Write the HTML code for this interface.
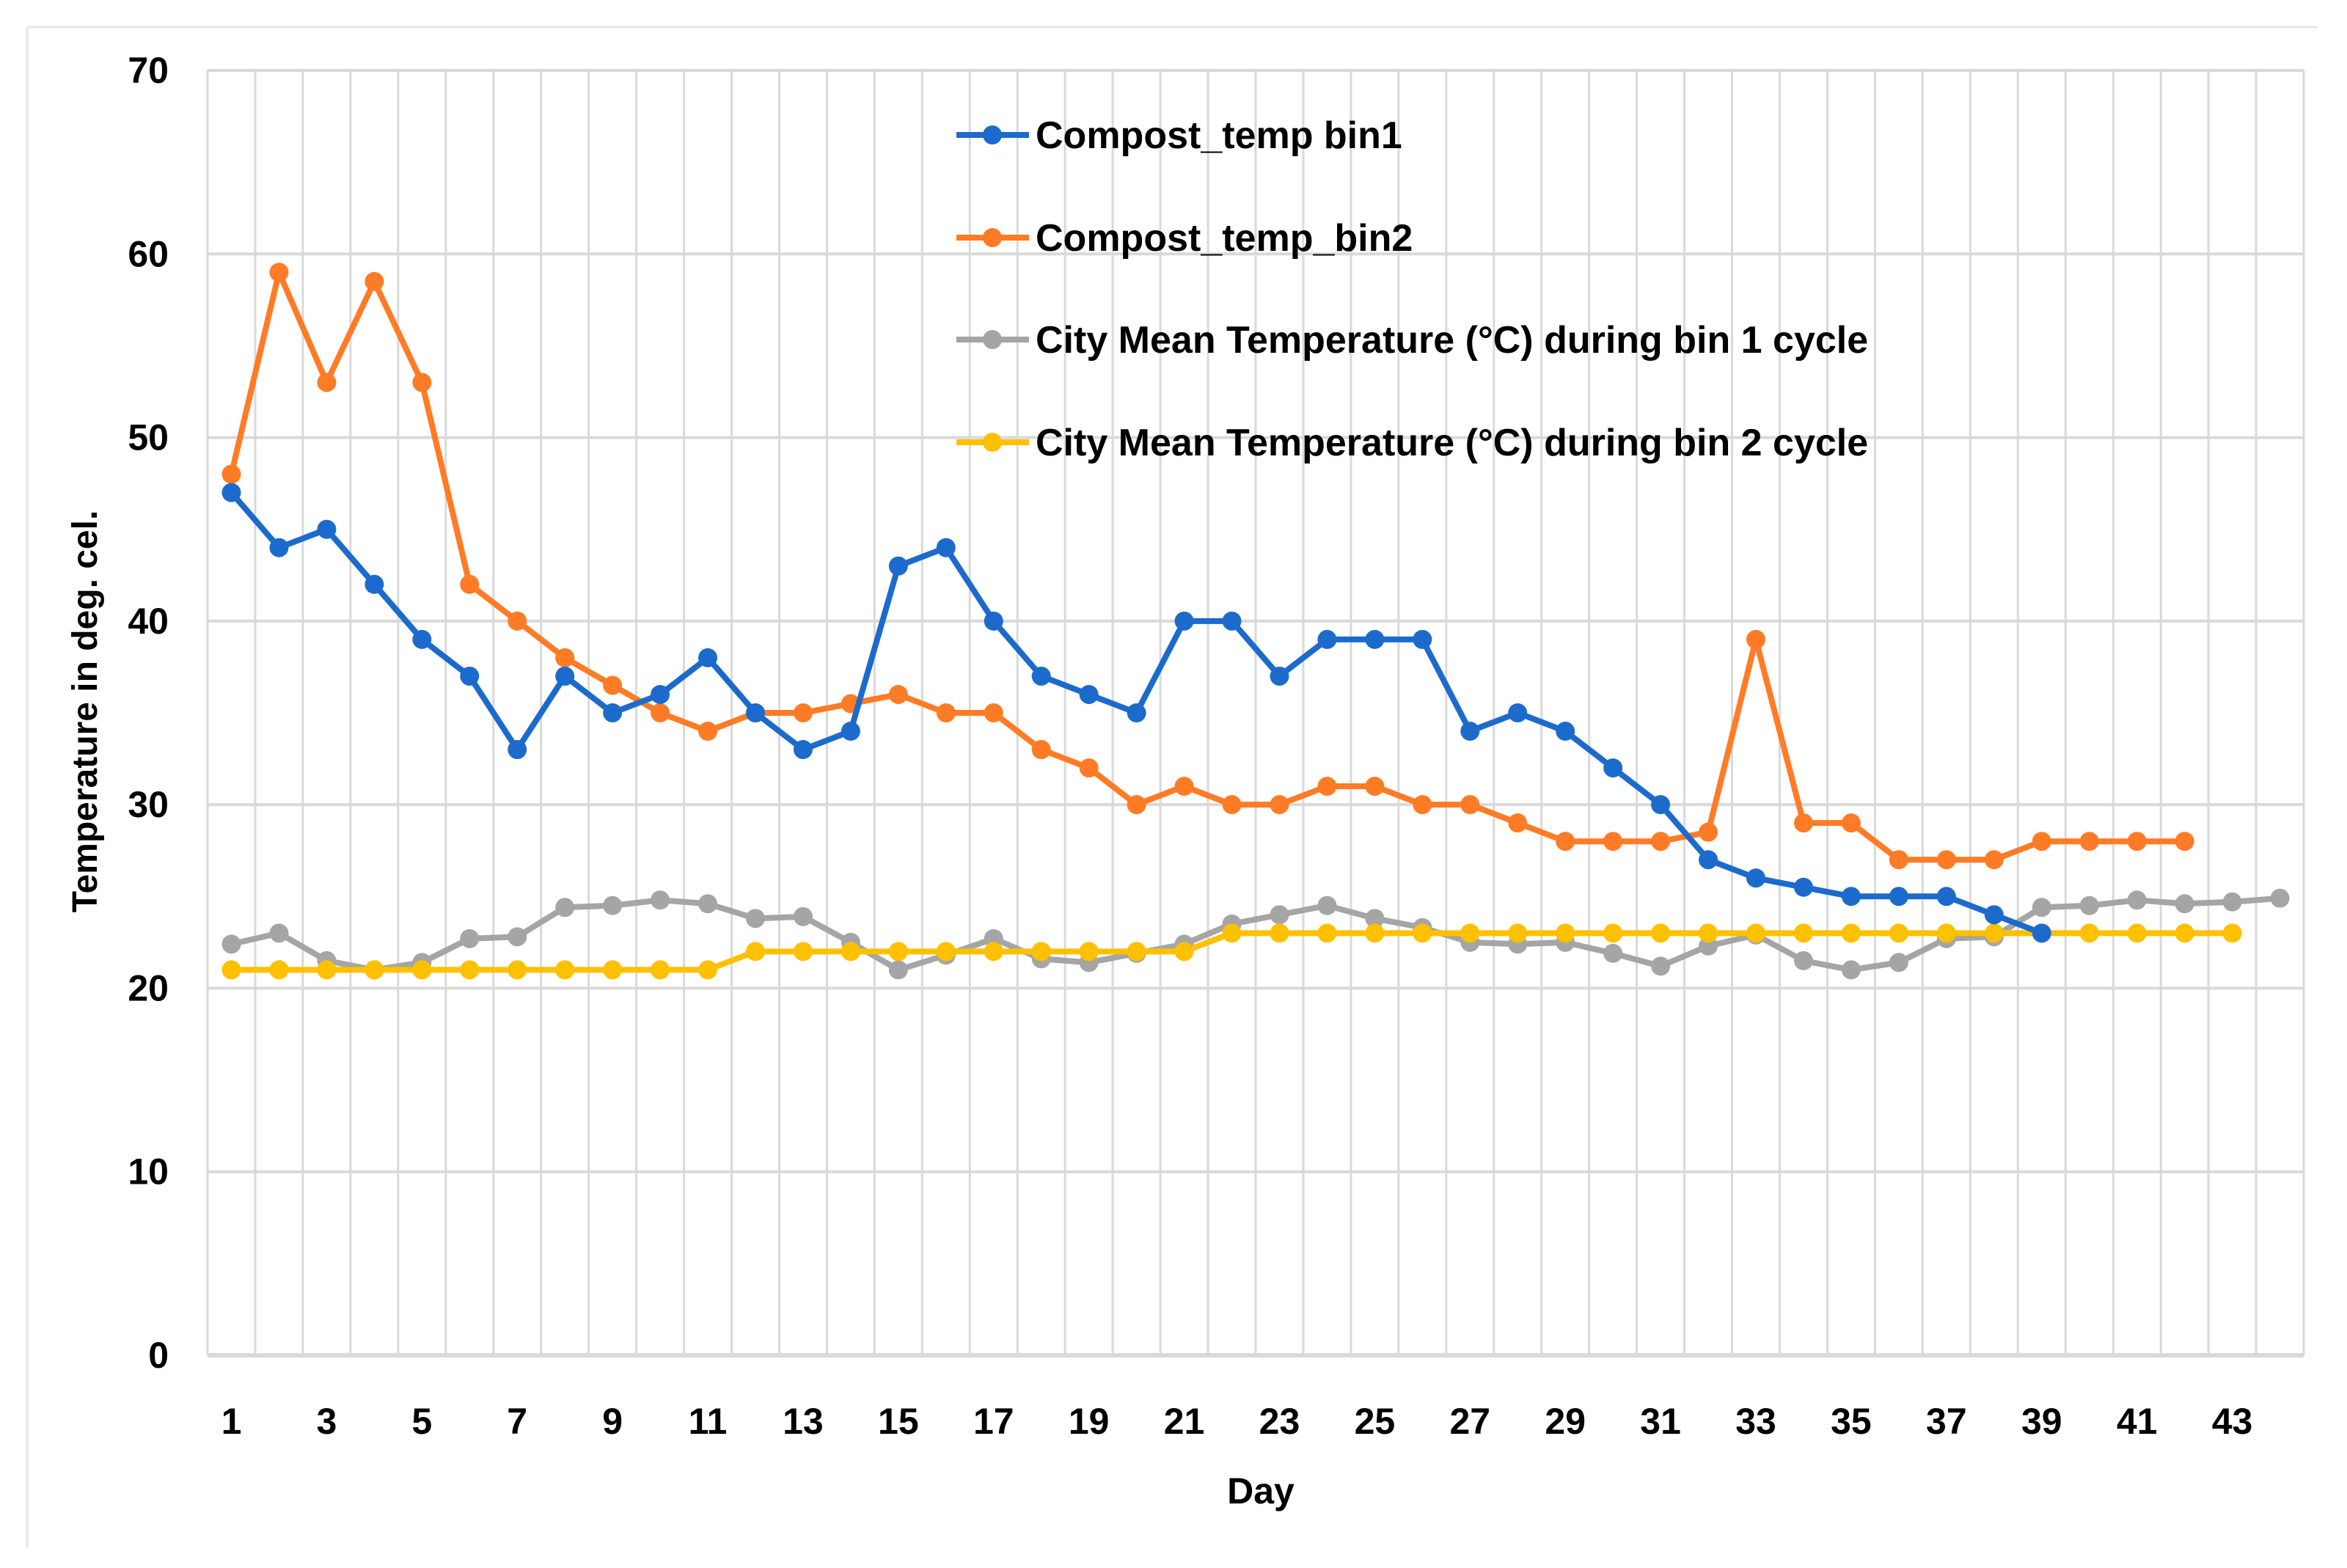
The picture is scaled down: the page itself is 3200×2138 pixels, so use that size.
<!DOCTYPE html>
<html><head><meta charset="utf-8"><style>
html,body{margin:0;padding:0;background:#fff;}
svg{display:block;}
text{font-family:"Liberation Sans",sans-serif;font-weight:bold;fill:#000;}
</style></head><body>
<svg id="chart" width="3200" height="2138" viewBox="0 0 3200 2138" xmlns="http://www.w3.org/2000/svg"></svg>
<script>
const days = Array.from({length:44},(_,i)=>i+1);
const yTicks = [0,10,20,30,40,50,60,70];
const xTickLabels = [1,3,5,7,9,11,13,15,17,19,21,23,25,27,29,31,33,35,37,39,41,43];
const bin1 = [47,44,45,42,39,37,33,37,35,36,38,35,33,34,43,44,40,37,36,35,40,40,37,39,39,39,34,35,34,32,30,27,26,25.5,25,25,25,24,23];
const bin2 = [48,59,53,58.5,53,42,40,38,36.5,35,34,35,35,35.5,36,35,35,33,32,30,31,30,30,31,31,30,30,29,28,28,28,28.5,39,29,29,27,27,27,28,28,28,28];
const city1 = [22.4,23,21.5,21,21.4,22.7,22.8,24.4,24.5,24.8,24.6,23.8,23.9,22.5,21,21.8,22.7,21.6,21.4,21.9,22.4,23.5,24,24.5,23.8,23.3,22.5,22.4,22.5,21.9,21.2,22.3,22.9,21.5,21,21.4,22.7,22.8,24.4,24.5,24.8,24.6,24.7,24.9];
const city2 = [21,21,21,21,21,21,21,21,21,21,21,22,22,22,22,22,22,22,22,22,22,23,23,23,23,23,23,23,23,23,23,23,23,23,23,23,23,23,23,23,23,23,23];
const seriesNames = ["Compost_temp bin1","Compost_temp_bin2","City Mean Temperature (°C) during bin 1 cycle","City Mean Temperature (°C) during bin 2 cycle"];

const NS="http://www.w3.org/2000/svg";
const svg=document.getElementById('chart');
const L=283,R=3141,T=96,B=1848,yMax=70;
const n=days.length, bw=(R-L)/n;
const xs=d=>L+bw*(d-0.5);
const ys=v=>B-(v/yMax)*(B-T);
function mk(tag,attrs,parent){const e=document.createElementNS(NS,tag);for(const k in attrs)e.setAttribute(k,attrs[k]);(parent||svg).appendChild(e);return e;}

const frame=mk('path',{d:'M37 2110 L37 37 L3160 37',fill:'none',stroke:'#e6e6e6','stroke-width':3});



for(let i=0;i<=n;i++){
  const g=mk('line',{x1:L+bw*i,x2:L+bw*i,y1:T,y2:B,stroke:'#d9d9d9','stroke-width':3});
  
  
}
yTicks.forEach(v=>{
  const g=mk('line',{x1:L,x2:R,y1:ys(v),y2:ys(v),stroke:'#d9d9d9','stroke-width':v===0?6:4});
  
  
  const t=mk('text',{x:230,y:ys(v)+17,'text-anchor':'end','font-size':50});
  t.textContent=v;
  
  
});
xTickLabels.forEach(d=>{
  const t=mk('text',{x:xs(d),y:1955,'text-anchor':'middle','font-size':50});
  t.textContent=d;
  
  
});
const xt=mk('text',{x:1719,y:2050,'text-anchor':'middle','font-size':50});
xt.textContent='Day';


const yt=mk('text',{x:0,y:0,'text-anchor':'middle','font-size':48,transform:'translate(132 970) rotate(-90)'});
yt.textContent='Temperature in deg. cel.';



const colors=['#1c6bcc','#ff7b26','#a5a5a5','#ffc000'];
const datasets=[bin1,bin2,city1,city2];
const sNames=['bin1','bin2','city-bin1','city-bin2'];
[2,3,1,0].forEach(si=>{
  const data=datasets[si];
  const g=mk('g',{});
  
  
  const pts=data.map((v,i)=>xs(days[i])+','+ys(v)).join(' ');
  const pl=mk('polyline',{points:pts,fill:'none',stroke:colors[si],'stroke-width':8,'stroke-linejoin':'round'},g);
  
  
  data.forEach((v,i)=>{
    const c=mk('circle',{cx:xs(days[i]),cy:ys(v),r:13,fill:colors[si]},g);
    
    
  });
});

const legY=[184,324,463,603];
seriesNames.forEach((nm,i)=>{
  const g=mk('g',{});
  
  
  mk('line',{x1:1304,x2:1403,y1:legY[i],y2:legY[i],stroke:colors[i],'stroke-width':8},g);
  mk('circle',{cx:1353,cy:legY[i],r:13,fill:colors[i]},g);
  const t=mk('text',{x:1412,y:legY[i]+18,'font-size':52},g);
  t.textContent=nm;
});
</script>
</body></html>
